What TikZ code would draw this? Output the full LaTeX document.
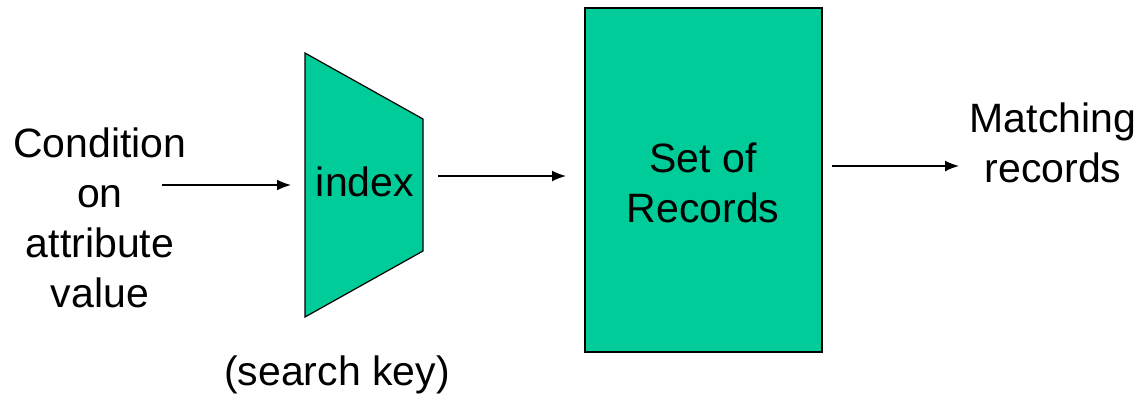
\documentclass[tikz,border=0pt]{standalone}
\usepackage{fontspec}
\setmainfont{Liberation Sans}
\usetikzlibrary{arrows.meta}
\begin{document}
\begin{tikzpicture}[x=1pt,y=-1pt,
  lbl/.style={inner sep=0pt,align=center,font=\fontsize{41}{50}\selectfont},
  shapefill/.style={fill=boxgreen,draw=black,line width=1.2pt},
  arr/.style={-{Latex[length=14pt,width=11pt]},line width=1.6pt}]
\definecolor{boxgreen}{HTML}{00CC99}
\useasboundingbox (0,0) rectangle (1142,396);
\draw[shapefill] (305,53) -- (423,119) -- (423,251) -- (305,317) -- cycle;
\node[lbl] (idx) at (365,182) {index};
\draw[shapefill] (585,8) rectangle (822,352);
\node[lbl] (rec) at (703,183) {Set of\\Records};
\node[lbl] (cond) at (100,218) {Condition\\on\\attribute\\value};
\node[lbl] (match) at (1053,143) {Matching\\records};
\node[lbl] (key) at (337,375) {(search key)};
\coordinate (a1s) at (162,185);
\coordinate (a1e) at (291,185);
\coordinate (a2s) at (438,176);
\coordinate (a2e) at (566,176);
\coordinate (a3s) at (832,166);
\coordinate (a3e) at (959,166);
\draw[arr] (a1s) -- (a1e);
\draw[arr] (a2s) -- (a2e);
\draw[arr] (a3s) -- (a3e);
\end{tikzpicture}
\end{document}
